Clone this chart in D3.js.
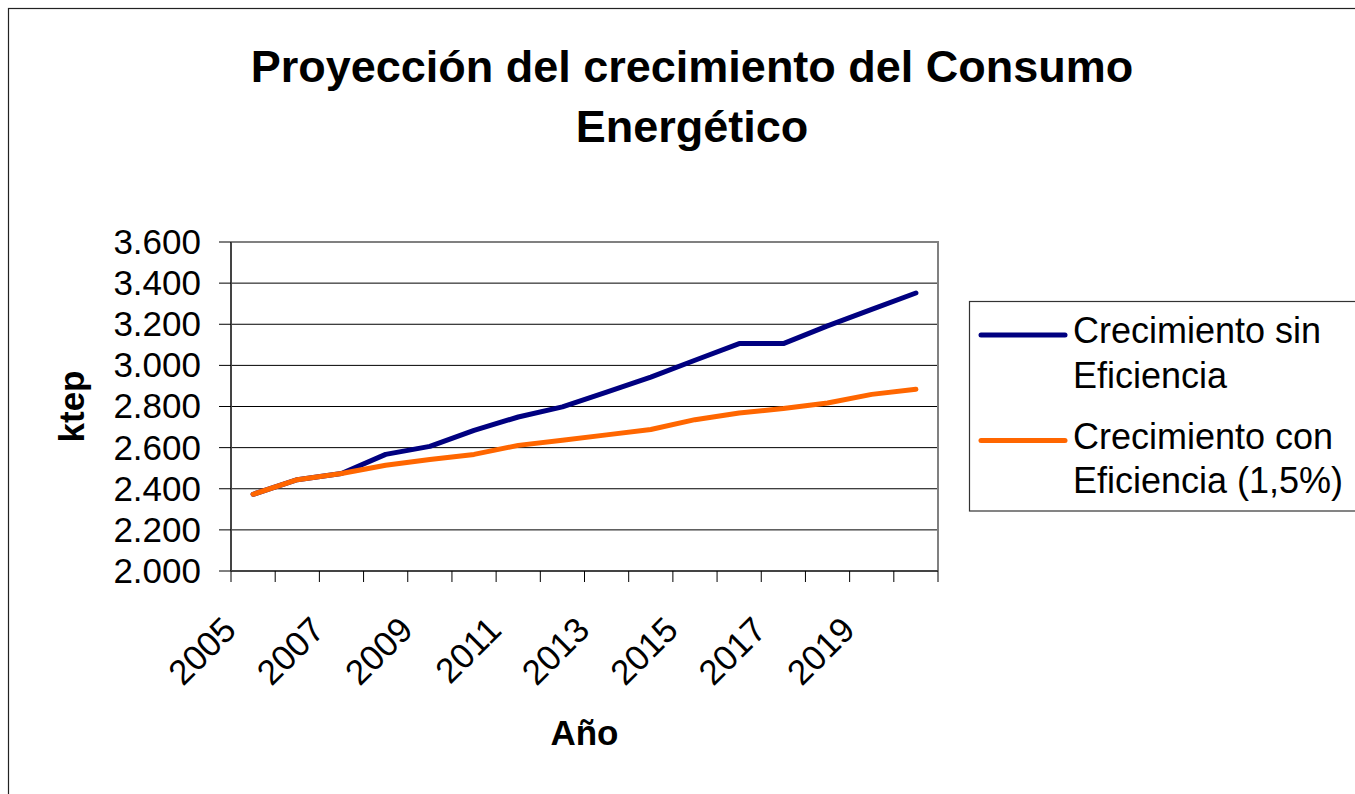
<!DOCTYPE html>
<html>
<head>
<meta charset="utf-8">
<script src="https://cdn.jsdelivr.net/npm/d3@7"></script>
<style>
  html, body { margin: 0; padding: 0; background: #fff; }
  svg { display: block; font-family: "Liberation Sans", Arial, sans-serif; }
</style>
</head>
<body>
<svg id="chart" width="1355" height="794"></svg>
<script>
// --- data (ktep per year) ---
const YEARS = [2005, 2006, 2007, 2008, 2009, 2010, 2011, 2012, 2013, 2014, 2015, 2016, 2017, 2018, 2019, 2020];
const SIN_EFICIENCIA = [2373, 2444, 2474, 2567, 2606, 2684, 2749, 2798, 2870, 2943, 3025, 3106, 3106, 3192, 3272, 3352];
const CON_EFICIENCIA = [2373, 2444, 2474, 2514, 2542, 2567, 2611, 2636, 2662, 2688, 2736, 2768, 2790, 2817, 2859, 2884];
const Y_TICKS = [2000, 2200, 2400, 2600, 2800, 3000, 3200, 3400, 3600];
const X_LABELS = [2005, 2007, 2009, 2011, 2013, 2015, 2017, 2019];
const TITLE_LINES = ['Proyección del crecimiento del Consumo', 'Energético'];
const SERIES = [
  { name: ['Crecimiento sin', 'Eficiencia'], values: SIN_EFICIENCIA, color: '#000080' },
  { name: ['Crecimiento con', 'Eficiencia (1,5%)'], values: CON_EFICIENCIA, color: '#FF6600' }
];

const svg = d3.select('#chart');
const P = { left: 231, right: 938, top: 242, bottom: 571 };

const esFormat = d3.formatLocale({ decimal: ',', thousands: '.', grouping: [3], currency: ['', '€'] }).format(',d');

const x = d3.scaleBand().domain(YEARS).range([P.left, P.right]).paddingInner(0).paddingOuter(0);
const y = d3.scaleLinear().domain([2000, 3600]).range([P.bottom, P.top]);
const cx = d => x(d) + x.bandwidth() / 2;

// outer chart frame (cropped on the right and bottom in the reference)
svg.append('rect')
  .attr('x', 8.5).attr('y', 8.5).attr('width', 1400).attr('height', 900)
  .attr('fill', 'none').attr('stroke', '#222').attr('stroke-width', 1.2);

// title
svg.append('g').selectAll('text')
  .data(TITLE_LINES)
  .join('text')
  .attr('x', 692)
  .attr('y', (d, i) => 82 + i * 60)
  .attr('text-anchor', 'middle')
  .attr('font-size', 45).attr('font-weight', 'bold')
  .text(d => d);

// gridlines
svg.append('g').selectAll('line')
  .data(Y_TICKS.slice(1, -1))
  .join('line')
  .attr('x1', P.left).attr('x2', P.right)
  .attr('y1', d => y(d)).attr('y2', d => y(d))
  .attr('stroke', '#000').attr('stroke-width', 1);

// plot area border (top/right)
svg.append('path')
  .attr('d', `M${P.left},${P.top}H${P.right}V${P.bottom}`)
  .attr('fill', 'none').attr('stroke', '#808080').attr('stroke-width', 2);

// y axis
const yAxis = svg.append('g');
yAxis.append('line')
  .attr('x1', P.left).attr('x2', P.left).attr('y1', P.top).attr('y2', P.bottom)
  .attr('stroke', '#444').attr('stroke-width', 2);
yAxis.selectAll('.tick')
  .data(Y_TICKS)
  .join('line')
  .attr('x1', P.left - 12).attr('x2', P.left)
  .attr('y1', d => y(d)).attr('y2', d => y(d))
  .attr('stroke', '#000').attr('stroke-width', 1);
yAxis.selectAll('text')
  .data(Y_TICKS)
  .join('text')
  .attr('x', 201).attr('y', d => y(d)).attr('dy', '0.34em')
  .attr('text-anchor', 'end').attr('font-size', 35)
  .text(d => esFormat(d));

// x axis
const xAxis = svg.append('g');
xAxis.append('line')
  .attr('x1', P.left).attr('x2', P.right).attr('y1', P.bottom).attr('y2', P.bottom)
  .attr('stroke', '#444').attr('stroke-width', 2);
xAxis.selectAll('.tick')
  .data(YEARS.map(d => x(d)).concat([x.range()[1]]))
  .join('line')
  .attr('x1', d => d).attr('x2', d => d)
  .attr('y1', P.bottom).attr('y2', P.bottom + 11)
  .attr('stroke', '#000').attr('stroke-width', 1);
xAxis.selectAll('text')
  .data(X_LABELS)
  .join('text')
  .attr('transform', d => `translate(${cx(d) - 15},632) rotate(-45)`)
  .attr('text-anchor', 'end').attr('font-size', 35)
  .text(d => d);

// axis titles
svg.append('text')
  .attr('x', (P.left + P.right) / 2).attr('y', 745)
  .attr('text-anchor', 'middle').attr('font-size', 35).attr('font-weight', 'bold')
  .text('Año');
svg.append('text')
  .attr('transform', `translate(84,${(P.top + P.bottom) / 2}) rotate(-90)`)
  .attr('text-anchor', 'middle').attr('font-size', 35).attr('font-weight', 'bold')
  .text('ktep');

// series lines
const line = d3.line().x((d, i) => cx(YEARS[i])).y(d => y(d));
svg.append('g').selectAll('path')
  .data(SERIES)
  .join('path')
  .attr('d', d => line(d.values))
  .attr('fill', 'none')
  .attr('stroke', d => d.color)
  .attr('stroke-width', 5)
  .attr('stroke-linejoin', 'round').attr('stroke-linecap', 'round');

// legend
const legend = svg.append('g');
legend.append('rect')
  .attr('x', 969.5).attr('y', 301.5).attr('width', 420).attr('height', 209.5)
  .attr('fill', '#fff').attr('stroke', '#333').attr('stroke-width', 1.2);
const items = legend.selectAll('g.item')
  .data(SERIES)
  .join('g')
  .attr('class', 'item')
  .attr('transform', (d, i) => `translate(0,${i * 105.5})`);
items.append('line')
  .attr('x1', 981).attr('x2', 1065).attr('y1', 335).attr('y2', 335)
  .attr('stroke', d => d.color).attr('stroke-width', 5).attr('stroke-linecap', 'round');
items.append('text')
  .attr('x', 1073).attr('y', 343).attr('font-size', 36)
  .selectAll('tspan')
  .data(d => d.name)
  .join('tspan')
  .attr('x', 1073).attr('dy', (d, i) => i ? 44.6 : 0)
  .text(d => d);
</script>
</body>
</html>
